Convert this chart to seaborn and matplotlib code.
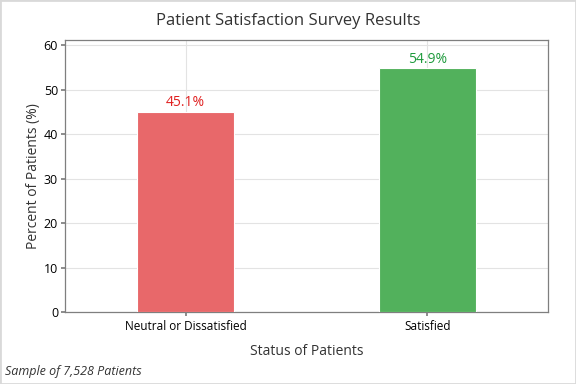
import matplotlib
matplotlib.use("Agg")
import matplotlib.pyplot as plt
import pandas as pd
import seaborn as sns
from matplotlib.patches import Rectangle

# Data
categories = ["Neutral or Dissatisfied", "Satisfied"]
percents = [45.1, 54.9]
bar_colors = ["#E8686A", "#52B15C"]
label_colors = ["#E02020", "#1E9A3C"]
y_ticks = [0, 10, 20, 30, 40, 50, 60]

sns.set_theme(style="white")
plt.rcParams["font.family"] = ["Open Sans", "DejaVu Sans"]

df = pd.DataFrame({"status": categories, "percent": percents})

fig = plt.figure(figsize=(5.76, 3.84), dpi=100)
ax = fig.add_axes([65 / 576, 1 - 312 / 384, 483 / 576, 272 / 384])

sns.barplot(
    data=df,
    x="status",
    y="percent",
    hue="status",
    palette=bar_colors,
    width=0.4,
    legend=False,
    saturation=1,
    ax=ax,
    zorder=3,
)
for patch in ax.patches:
    patch.set_edgecolor("white")
    patch.set_linewidth(0.8)

for i, (value, color) in enumerate(zip(percents, label_colors)):
    ax.annotate(
        f"{value:.1f}%",
        (i, value),
        xytext=(0, 1),
        textcoords="offset points",
        ha="center",
        va="bottom",
        fontsize=10,
        color=color,
    )

ax.set_xlim(-0.5, 1.5)
ax.set_ylim(0, 61.2)
ax.set_yticks(y_ticks)
ax.grid(True, color="#E3E3E3", linewidth=0.8, zorder=0)
ax.set_axisbelow(True)
for spine in ax.spines.values():
    spine.set_color("#7F7F7F")
    spine.set_linewidth(0.9)
ax.tick_params(axis="both", which="both", length=3, color="#7F7F7F",
               labelcolor="black", pad=2, left=True, bottom=True)
ax.tick_params(axis="x", labelsize=8.5, pad=3)
ax.tick_params(axis="y", labelsize=9)
ax.set_xlabel("Status of Patients", fontsize=10, color="#333333", labelpad=8)
ax.set_ylabel("Percent of Patients (%)", fontsize=10, color="#333333", labelpad=2)

fig.suptitle("Patient Satisfaction Survey Results", x=0.5, y=0.965,
             fontsize=12, color="#333333")
fig.text(5 / 576, 1 - 372 / 384, "Sample of 7,528 Patients", fontsize=9,
         style="italic", color="#333333", va="center")

fig.patches.append(Rectangle((0, 0), 1, 1, transform=fig.transFigure,
                             fill=False, edgecolor="#D9D9D9", linewidth=2))

fig.savefig("out.png", dpi=100)
